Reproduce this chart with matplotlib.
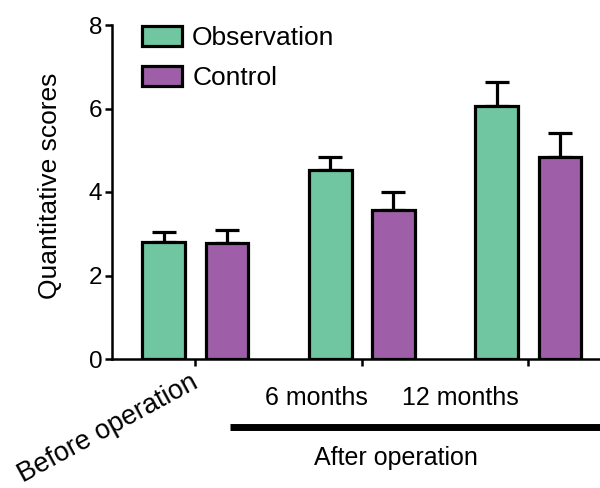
import matplotlib
matplotlib.use("Agg")
import matplotlib.pyplot as plt
import numpy as np
from matplotlib.patches import Patch

plt.rcParams['font.family'] = ['Liberation Sans', 'DejaVu Sans']

groups = ["Before operation", "6 months", "12 months"]
observation = [2.81, 4.53, 6.07]
observation_err = [0.24, 0.30, 0.57]
control = [2.77, 3.57, 4.83]
control_err = [0.32, 0.44, 0.58]

green = "#6fc6a0"
purple = "#9e5fa8"
fs = 18

fig = plt.figure(figsize=(6, 4.88), dpi=100)
ax = fig.add_axes([112 / 600, 1 - 359 / 488, 1 - 112 / 600, 334 / 488])

x = np.arange(len(groups))
w = 0.257
off = 0.19

for vals, errs, col, sgn in [(observation, observation_err, green, -1),
                             (control, control_err, purple, 1)]:
    xs = x + sgn * off
    ax.errorbar(xs, vals, yerr=[np.zeros(len(errs)), errs], fmt="none",
                ecolor="black", elinewidth=2.3, capsize=8.5, capthick=2.3,
                zorder=2)
    ax.bar(xs, vals, width=w, color=col, edgecolor="black", linewidth=2.3,
           zorder=3)

ax.set_xlim(-0.5, 2.43)
ax.set_ylim(0, 8)
ax.set_yticks([0, 2, 4, 6, 8])
ax.set_xticks(x)
ax.set_xticklabels(["", "", ""])
ax.tick_params(axis="both", width=1.8, length=5, labelsize=17.5, pad=2)
for s in ["top", "right"]:
    ax.spines[s].set_visible(False)
for s in ["left", "bottom"]:
    ax.spines[s].set_linewidth(1.8)

ax.set_ylabel("Quantitative scores", fontsize=19)
ax.yaxis.set_label_coords(-0.102, 0.518)

tr = ax.get_xaxis_transform()
ax.text(-0.032, -0.03, groups[0], transform=tr, fontsize=19.5, rotation=28.5,
        ha="right", va="top", rotation_mode="anchor")
ax.text(0.725, -0.117, groups[1], transform=tr, fontsize=fs,
        ha="center", va="center")
ax.text(1.593, -0.117, groups[2], transform=tr, fontsize=fs,
        ha="center", va="center")
ax.plot([0.21, 2.5], [-0.205, -0.205], transform=tr, color="black",
        linewidth=5, clip_on=False, solid_capstyle="butt")
ax.text(1.204, -0.296, "After operation", transform=tr, fontsize=fs,
        ha="center", va="center")

handles = [Patch(facecolor=green, edgecolor="black", linewidth=2.3, label="Observation"),
           Patch(facecolor=purple, edgecolor="black", linewidth=2.3, label="Control")]
fig.legend(handles=handles, loc="upper left",
           bbox_to_anchor=(142 / 600, 1 - 26 / 488), frameon=False,
           fontsize=19, borderpad=0, borderaxespad=0, handlelength=1.52,
           handleheight=0.76, handletextpad=0.38, labelspacing=0.62)

fig.savefig("out.png", dpi=100)
